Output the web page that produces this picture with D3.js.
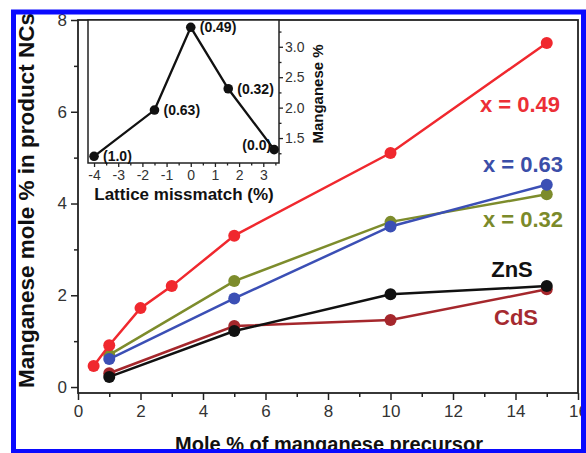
<!DOCTYPE html>
<html>
<head>
<meta charset="utf-8">
<script src="https://cdn.jsdelivr.net/npm/d3@7"></script>
<style>
  body { margin: 0; background: #fff; }
  svg { display: block; font-family: Arial, "Liberation Sans", sans-serif; }
</style>
</head>
<body>
<div id="graph1"></div>
<script>
// main panel: Mn in product vs Mn precursor
let precursorRed = [0.5, 1, 2, 3, 5, 10, 15];
let precursor = [1, 5, 10, 15];
let mn049 = [0.46, 0.91, 1.72, 2.2, 3.3, 5.1, 7.5];
let mn063 = [0.61, 1.93, 3.5, 4.41];
let mn032 = [0.7, 2.31, 3.6, 4.2];
let mnZnS = [0.22, 1.22, 2.02, 2.2];
let mnCdS = [0.3, 1.33, 1.46, 2.13];
let xTicks = [0, 2, 4, 6, 8, 10, 12, 14, 16];
let yTicks = [0, 2, 4, 6, 8];

// inset: Mn % vs lattice mismatch
let lattice = [-4, -1.5, 0, 1.55, 3.45];
let insetMn = [1.2, 1.96, 3.32, 2.31, 1.31];
let insetLabels = ["(1.0)", "(0.63)", "(0.49)", "(0.32)", "(0.0)"];
let insetXTicks = [-4, -3, -2, -1, 0, 1, 2, 3];
let insetYTicks = [1.5, 2.0, 2.5, 3.0];

let width = 586;
let height = 453;

let svg = d3.select("#graph1").append("svg")
  .attr("width", width)
  .attr("height", height);

let x = d3.scaleLinear().domain([0, 16]).range([78, 578]);
let y = d3.scaleLinear().domain([-0.13, 8]).range([393, 20]);

// axes
let xAxis = d3.axisBottom(x).tickValues(xTicks).tickSize(7).tickSizeOuter(0).tickPadding(5);
let xMinor = d3.axisBottom(x).tickValues(xTicks.slice(0, -1).map(function (d) { return d + 1; }))
  .tickSize(4).tickSizeOuter(0).tickFormat("");
let yAxis = d3.axisLeft(y).tickValues(yTicks).tickSize(7).tickSizeOuter(0).tickPadding(4);
let yMinor = d3.axisLeft(y).tickValues(yTicks.slice(0, -1).map(function (d) { return d + 1; }))
  .tickSize(4).tickSizeOuter(0).tickFormat("");

[[xAxis, "bottom"], [xMinor, "bottom"], [yAxis, "left"], [yMinor, "left"]].forEach(function (a) {
  let g = svg.append("g")
    .attr("transform", a[1] === "bottom" ? "translate(0, 393)" : "translate(78, 0)")
    .call(a[0]);
  g.select(".domain").remove();
  g.selectAll("line").attr("stroke", "#222").attr("stroke-width", 1.5);
  g.selectAll("text").attr("font-size", 17).attr("fill", "#333");
});

svg.append("rect")
  .attr("x", 78).attr("y", 20)
  .attr("width", 500).attr("height", 373)
  .attr("fill", "none")
  .attr("stroke", "#222")
  .attr("stroke-width", 1.8);

// series
let series = [
  { xs: precursor, ys: mnCdS, color: "#a5272c" },
  { xs: precursor, ys: mnZnS, color: "#111111" },
  { xs: precursor, ys: mn032, color: "#7d8c2c" },
  { xs: precursor, ys: mn063, color: "#3b4fb5" },
  { xs: precursorRed, ys: mn049, color: "#f0282e" }
];

let line = d3.line()
  .x(function (d) { return x(d[0]); })
  .y(function (d) { return y(d[1]); });

series.forEach(function (s) {
  let pts = s.xs.map(function (d, i) { return [d, s.ys[i]]; });
  svg.append("path")
    .attr("d", line(pts))
    .attr("fill", "none")
    .attr("stroke", s.color)
    .attr("stroke-width", 2.5);
  svg.selectAll(null)
    .data(pts)
    .enter()
    .append("circle")
    .attr("cx", function (d) { return x(d[0]); })
    .attr("cy", function (d) { return y(d[1]); })
    .attr("r", 6)
    .attr("fill", s.color);
});

let seriesLabels = [
  { text: "x = 0.49", color: "#ec2f36", cx: 520, by: 112 },
  { text: "x = 0.63", color: "#3b4ea8", cx: 523, by: 172 },
  { text: "x = 0.32", color: "#7b8a2a", cx: 523, by: 227 },
  { text: "ZnS", color: "#111111", cx: 512, by: 277 },
  { text: "CdS", color: "#a52a30", cx: 516, by: 325 }
];

svg.selectAll(".series-label")
  .data(seriesLabels)
  .enter()
  .append("text")
  .attr("class", "series-label")
  .attr("x", function (d) { return d.cx; })
  .attr("y", function (d) { return d.by; })
  .attr("text-anchor", "middle")
  .attr("font-size", 22)
  .attr("font-weight", "bold")
  .attr("fill", function (d) { return d.color; })
  .text(function (d) { return d.text; });

// axis titles
svg.append("text")
  .attr("transform", "translate(34, 388) rotate(-90)")
  .attr("font-size", 22.5)
  .attr("font-weight", "bold")
  .attr("fill", "#111")
  .text("Manganese mole % in product NCs");

svg.append("text")
  .attr("x", 329).attr("y", 451)
  .attr("text-anchor", "middle")
  .attr("font-size", 20)
  .attr("font-weight", "bold")
  .attr("fill", "#111")
  .text("Mole % of manganese precursor");

// inset
let ix = d3.scaleLinear().domain([-4.25, 3.65]).range([88, 279]);
let iy = d3.scaleLinear().domain([1.09, 3.44]).range([163, 20]);

svg.append("rect")
  .attr("x", 88).attr("y", 20)
  .attr("width", 191).attr("height", 143)
  .attr("fill", "#fff")
  .attr("stroke", "#222")
  .attr("stroke-width", 1.5);

let ixAxis = d3.axisBottom(ix).tickValues(insetXTicks).tickSize(4).tickSizeOuter(0).tickPadding(3)
  .tickFormat(function (d) { return String(d); });
let ixMinor = d3.axisBottom(ix).tickValues(insetXTicks.map(function (d) { return d + 0.5; }))
  .tickSize(2.5).tickSizeOuter(0).tickFormat("");
let iyAxis = d3.axisRight(iy).tickValues(insetYTicks).tickSize(4).tickSizeOuter(0).tickPadding(2)
  .tickFormat(d3.format(".1f"));
let iyMinor = d3.axisRight(iy).tickValues([1.25, 1.75, 2.25, 2.75, 3.25])
  .tickSize(2.5).tickSizeOuter(0).tickFormat("");

[[ixAxis, "bottom"], [ixMinor, "bottom"], [iyAxis, "right"], [iyMinor, "right"]].forEach(function (a) {
  let g = svg.append("g")
    .attr("transform", a[1] === "bottom" ? "translate(0, 163)" : "translate(279, 0)")
    .call(a[0]);
  g.select(".domain").remove();
  g.selectAll("line").attr("stroke", "#222").attr("stroke-width", 1.3);
  g.selectAll("text").attr("font-size", 14).attr("fill", "#333");
});

let ipts = lattice.map(function (d, i) { return [d, insetMn[i], insetLabels[i]]; });

svg.append("path")
  .attr("d", d3.line()
    .x(function (d) { return ix(d[0]); })
    .y(function (d) { return iy(d[1]); })(ipts))
  .attr("fill", "none")
  .attr("stroke", "#111")
  .attr("stroke-width", 2.3);

svg.selectAll(".ipt")
  .data(ipts)
  .enter()
  .append("circle")
  .attr("class", "ipt")
  .attr("cx", function (d) { return ix(d[0]); })
  .attr("cy", function (d) { return iy(d[1]); })
  .attr("r", 4.8)
  .attr("fill", "#111");

svg.selectAll(".ilabel")
  .data(ipts)
  .enter()
  .append("text")
  .attr("class", "ilabel")
  .attr("x", function (d, i) { return i === ipts.length - 1 ? ix(d[0]) - 3 : ix(d[0]) + 9; })
  .attr("y", function (d, i) { return iy(d[1]) + (i === ipts.length - 1 ? 0 : 5); })
  .attr("text-anchor", function (d, i) { return i === ipts.length - 1 ? "end" : "start"; })
  .attr("font-size", 14)
  .attr("font-weight", "bold")
  .attr("fill", "#111")
  .text(function (d) { return d[2]; });

svg.append("text")
  .attr("x", 184).attr("y", 200)
  .attr("text-anchor", "middle")
  .attr("font-size", 17)
  .attr("font-weight", "bold")
  .attr("fill", "#111")
  .text("Lattice missmatch (%)");

svg.append("text")
  .attr("transform", "translate(323, 94) rotate(-90)")
  .attr("text-anchor", "middle")
  .attr("font-size", 15)
  .attr("font-weight", "bold")
  .attr("fill", "#111")
  .text("Manganese %");

// blue frame round the figure
svg.append("rect")
  .attr("x", 13.5).attr("y", 12)
  .attr("width", 570).attr("height", 439.5)
  .attr("fill", "none")
  .attr("stroke", "#0a0aff")
  .attr("stroke-width", 5);
</script>
</body>
</html>
